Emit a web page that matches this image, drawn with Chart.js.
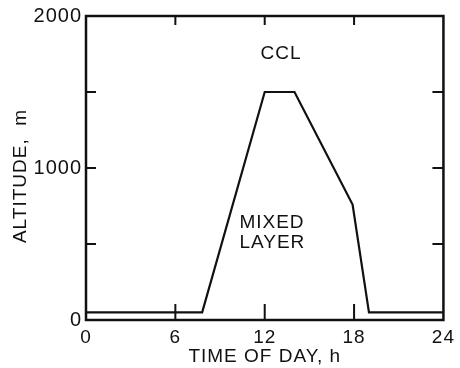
<!DOCTYPE html>
<html>
<head>
<meta charset="utf-8">
<script src="https://cdn.jsdelivr.net/npm/chart.js@4/dist/chart.umd.min.js"></script>
<style>
  html, body { margin: 0; padding: 0; background: #fff; }
  canvas { display: block; }
</style>
</head>
<body>
<canvas id="chart" width="460" height="368"></canvas>
<script>
// Mixed-layer depth over the day (hours, metres)
const hours = [0, 7.8, 12, 14, 17.9, 19, 24];
const altitudes = [50, 50, 1500, 1500, 760, 50, 50];

// Axis ticks and their labels
const xTickValues = [0, 6, 12, 18, 24];
const xTickLabels = ['0', '6', '12', '18', '24'];
const yTickValues = [0, 500, 1000, 1500, 2000];
const yTickLabels = ['0', '', '1000', '', '2000'];

// Text placed inside the plot, in data coordinates (baseline position)
const annotations = [
  { text: 'CCL', x: 13.1, y: 1717, align: 'center' },
  { text: 'MIXED', x: 10.3, y: 605, align: 'left' },
  { text: 'LAYER', x: 10.3, y: 474, align: 'left' }
];

const INK = '#111';
const FONT = '"Liberation Sans", Arial, sans-serif';

// Inward tick marks on all four sides plus the box frame and in-plot labels
const framePlugin = {
  id: 'frame',
  beforeDraw(chart) {
    chart.ctx.letterSpacing = '1px';
  },
  afterDatasetsDraw(chart) {
    const { ctx, chartArea: a, scales: { x, y } } = chart;
    ctx.save();
    ctx.strokeStyle = INK;
    ctx.lineWidth = 2;
    ctx.beginPath();
    xTickValues.forEach(v => {
      if (v === x.min || v === x.max) return;
      const px = x.getPixelForValue(v);
      ctx.moveTo(px, a.bottom); ctx.lineTo(px, a.bottom - 16);
      ctx.moveTo(px, a.top); ctx.lineTo(px, a.top + 9);
    });
    yTickValues.forEach(v => {
      if (v === y.min || v === y.max) return;
      const py = y.getPixelForValue(v);
      ctx.moveTo(a.left, py); ctx.lineTo(a.left + 10, py);
      ctx.moveTo(a.right, py); ctx.lineTo(a.right - 11, py);
    });
    ctx.stroke();

    ctx.lineWidth = 2.5;
    ctx.strokeRect(a.left, a.top, a.right - a.left, a.bottom - a.top);

    ctx.fillStyle = INK;
    ctx.font = '19px ' + FONT;
    ctx.textBaseline = 'alphabetic';
    annotations.forEach(t => {
      ctx.textAlign = t.align;
      ctx.fillText(t.text, x.getPixelForValue(t.x), y.getPixelForValue(t.y));
    });

    // vertical axis title
    ctx.translate(a.left - 65, (a.top + a.bottom) / 2 + 8);
    ctx.rotate(-Math.PI / 2);
    ctx.textAlign = 'center';
    ctx.textBaseline = 'middle';
    ctx.fillText('ALTITUDE,  m', 0, 0);
    ctx.restore();
  }
};

new Chart(document.getElementById('chart'), {
  type: 'line',
  data: {
    datasets: [{
      data: hours.map((h, i) => ({ x: h, y: altitudes[i] })),
      borderColor: INK,
      borderWidth: 2.2,
      pointRadius: 0,
      tension: 0,
      fill: false
    }]
  },
  options: {
    responsive: false,
    animation: false,
    devicePixelRatio: 1,
    layout: { padding: { top: 16, right: 11, left: 0, bottom: 0 } },
    plugins: { legend: { display: false }, tooltip: { enabled: false } },
    scales: {
      x: {
        type: 'linear',
        min: 0,
        max: 24,
        afterBuildTicks(scale) { scale.ticks = xTickValues.map(v => ({ value: v })); },
        afterFit(scale) { scale.height = 48; },
        grid: { display: false, drawTicks: false },
        border: { display: false },
        ticks: {
          color: INK,
          padding: 6,
          maxRotation: 0,
          font: { family: FONT, size: 19 },
          callback: v => xTickLabels[xTickValues.indexOf(v)]
        },
        title: {
          display: true,
          text: 'TIME OF DAY, h',
          color: INK,
          padding: { top: 0, bottom: 0 },
          font: { family: FONT, size: 19 }
        }
      },
      y: {
        type: 'linear',
        min: 0,
        max: 2000,
        afterBuildTicks(scale) { scale.ticks = yTickValues.map(v => ({ value: v })); },
        afterFit(scale) { scale.width = 86; },
        grid: { display: false, drawTicks: false },
        border: { display: false },
        ticks: {
          color: INK,
          padding: 4,
          font: { family: FONT, size: 20 },
          callback: v => yTickLabels[yTickValues.indexOf(v)]
        }
      }
    }
  },
  plugins: [framePlugin]
});
</script>
</body>
</html>
